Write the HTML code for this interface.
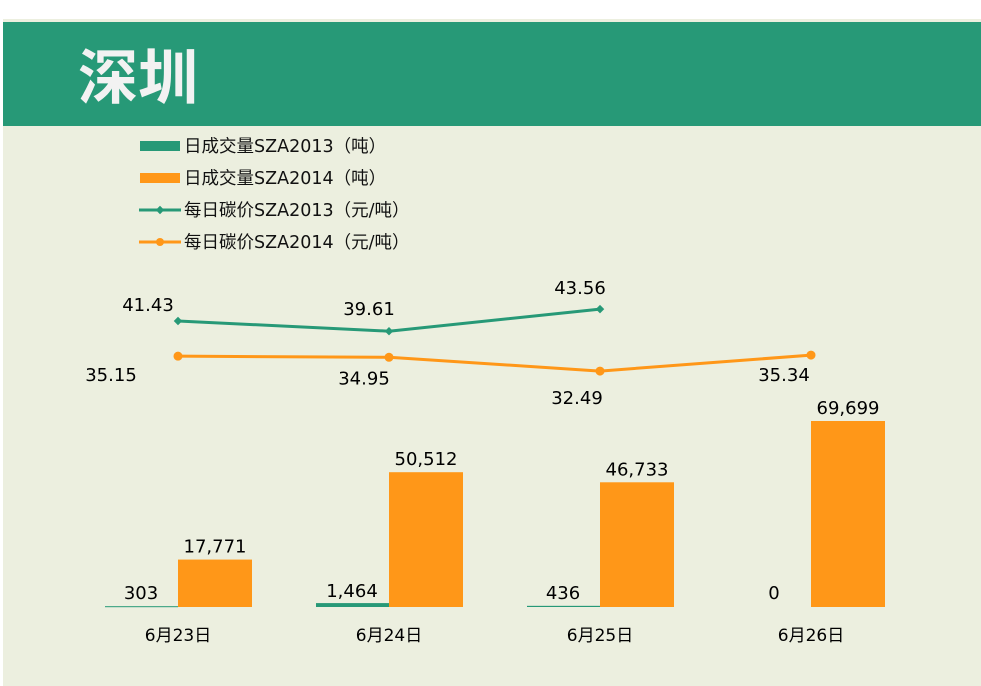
<!DOCTYPE html>
<html><head><meta charset="utf-8"><style>
body{margin:0;width:981px;height:686px;background:#fff;overflow:hidden;font-family:"DejaVu Sans","Noto Sans CJK SC",sans-serif}
#bg{position:absolute;left:3px;top:19px;width:978px;height:667px;background:#ECEFDF}
#hdr{position:absolute;left:3px;top:22px;width:978px;height:104px;background:#279977}
#title{position:absolute;left:78px;top:36px;font-size:60px;font-weight:bold;color:#F2F2F2;font-family:"Noto Sans CJK SC",sans-serif;line-height:76px}
svg{position:absolute;left:0;top:0}
</style></head><body>
<div id="bg"></div>
<div id="hdr"></div>
<div id="title">深圳</div>
<svg id="c" width="981" height="686"></svg>
<script>
const categories=["6月23日","6月24日","6月25日","6月26日"];
const vol2013=[303,1464,436,0];
const vol2014=[17771,50512,46733,69699];
const price2013=[41.43,39.61,43.56,null];
const price2014=[35.15,34.95,32.49,35.34];
const legendLabels=["日成交量SZA2013（吨）","日成交量SZA2014（吨）","每日碳价SZA2013（元/吨）","每日碳价SZA2014（元/吨）"];
const G="#279977",O="#FF9718";
const svg=document.getElementById('c');
const NS="http://www.w3.org/2000/svg";
function mk(t,a,txt){const e=document.createElementNS(NS,t);for(const k in a)e.setAttribute(k,a[k]);if(txt!=null)e.textContent=txt;svg.appendChild(e);return e;}
const cx=i=>178+i*211;
const yB=v=>607-v*186/69699;
const yP=v=>321+(41.43-v)*5.6;
const fmt=v=>v.toLocaleString('en-US');
const font='"DejaVu Sans","Noto Sans CJK SC",sans-serif';
// legend
legendLabels.forEach((l,i)=>{const y=146+i*32;
 let m;
 if(i<2){m=mk('rect',{x:140,y:y-5,width:40,height:10,fill:i?O:G});}
 else{m=mk('line',{x1:139,y1:y,x2:181,y2:y,stroke:i==2?G:O,'stroke-width':3});
  const d=mk(i==2?'rect':'circle',i==2?{x:157,y:y-3,width:6,height:6,fill:G,transform:`rotate(45 160 ${y})`}:{cx:160,cy:y,r:4,fill:O});
  }
 
 const t=mk('text',{x:184,y:y+6,'font-size':17.5,fill:'#111','font-family':font},l);
 
});
// bars
categories.forEach((c,i)=>{
 const x=cx(i);
 const g=mk('rect',{x:x-73,y:yB(vol2013[i]),width:73,height:Math.max(607-yB(vol2013[i]),vol2013[i]>0?1:0),fill:G});
 
 const o=mk('rect',{x:x,y:yB(vol2014[i]),width:74,height:607-yB(vol2014[i]),fill:O});
 
 const t1=mk('text',{x:x-37,y:Math.min(yB(vol2013[i])-6,599),'font-size':18,'text-anchor':'middle',fill:'#000','font-family':font},fmt(vol2013[i]));
 
 const t2=mk('text',{x:x+37,y:yB(vol2014[i])-7,'font-size':18,'text-anchor':'middle',fill:'#000','font-family':font},fmt(vol2014[i]));
 
 const xl=mk('text',{x:x,y:641,'font-size':17,'text-anchor':'middle',fill:'#000','font-family':font},c);
 
});
// lines
const off2013=[[-30,-10],[-20,-16],[-20,-15]];
const off2014=[[-67,25],[-25,27],[-23,33],[-27,26]];
function line(arr,col,name,above,offs){
 const pts=[];arr.forEach((v,i)=>{if(v!=null)pts.push([cx(i),yP(v),v,i]);});
 const p=mk('polyline',{points:pts.map(p=>p[0]+','+p[1]).join(' '),fill:'none',stroke:col,'stroke-width':3});
 
 pts.forEach(q=>{
  const m=above?mk('rect',{x:q[0]-3,y:q[1]-3,width:6,height:6,fill:col,transform:`rotate(45 ${q[0]} ${q[1]})`}):mk('circle',{cx:q[0],cy:q[1],r:4.5,fill:col});
  
  const o=offs[q[3]];
  const t=mk('text',{x:q[0]+o[0],y:q[1]+o[1],'font-size':18,'text-anchor':'middle',fill:'#000','font-family':font},q[2].toFixed(2));
  
 });
}
line(price2013,G,'price-2013',true,off2013);
line(price2014,O,'price-2014',false,off2014);
</script>
</body></html>
